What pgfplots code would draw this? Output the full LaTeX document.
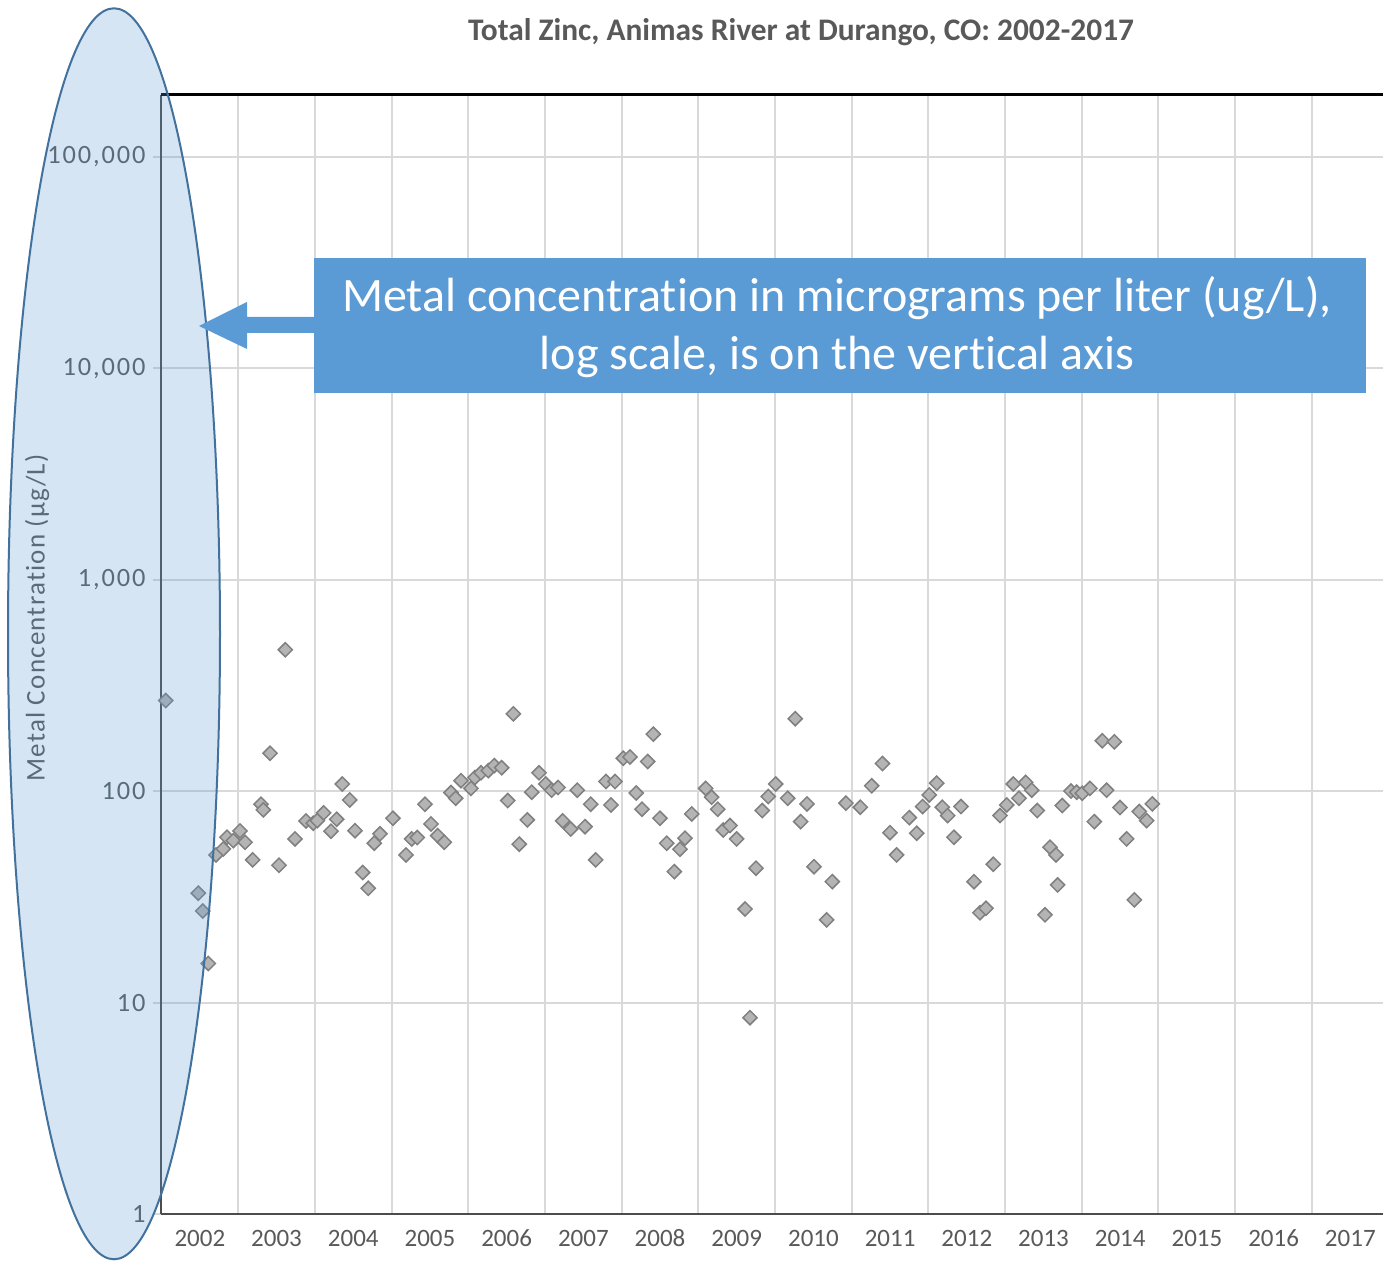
\documentclass[border=0pt]{standalone}
\usepackage{pgfplots}
\pgfplotsset{compat=1.18}
\usepackage{fontspec}
\setmainfont{Carlito}[Ligatures=NoCommon]
\definecolor{txtgray}{HTML}{595959}
\definecolor{gridgray}{HTML}{D9D9D9}
\definecolor{callout}{HTML}{5B9BD5}
\definecolor{ellborder}{HTML}{41719C}
\definecolor{mkfill}{HTML}{B4B4B4}
\definecolor{mkdraw}{HTML}{808080}

% total zinc, ug/L, sample date as decimal year
\pgfplotstableread{
x y
2002.055 268
2002.480 32.9
2002.537 27.1
2002.610 15.3
2002.711 49.9
2002.806 53.3
2002.854 60.5
2002.936 58.3
2003.023 64.8
2003.089 57.3
2003.189 47.3
2003.297 86.7
2003.327 81.5
2003.415 151
2003.532 44.6
2003.614 466
2003.741 59.4
2003.884 72.3
2003.979 70.5
2004.031 72.5
2004.115 78.9
2004.210 64.6
2004.284 73.6
2004.357 108
2004.454 90.8
2004.523 65.0
2004.623 41.2
2004.696 34.7
2004.774 56.7
2004.849 62.8
2005.018 74.4
2005.188 49.9
2005.262 59.4
2005.335 60.3
2005.435 86.7
2005.514 69.9
2005.601 61.6
2005.687 57.3
2005.774 98.4
2005.836 92.5
2005.905 112
2006.035 103
2006.087 116
2006.166 122
2006.261 125
2006.339 132
2006.435 129
2006.514 90.2
2006.587 232
2006.665 56.1
2006.769 73.1
2006.827 98.8
2006.922 122
2007.009 108
2007.087 101
2007.170 104
2007.231 72.3
2007.335 66.2
2007.421 101
2007.522 67.9
2007.596 86.7
2007.661 47.3
2007.795 111
2007.860 86.0
2007.913 111
2008.021 143
2008.108 145
2008.189 98.0
2008.265 82.1
2008.339 138
2008.412 186
2008.499 74.4
2008.587 56.7
2008.686 41.6
2008.760 53.1
2008.825 59.9
2008.913 78.0
2009.095 103
2009.173 93.6
2009.252 82.1
2009.325 65.5
2009.412 68.7
2009.499 59.4
2009.608 27.7
2009.673 8.48
2009.751 43.2
2009.833 80.9
2009.911 94.2
2010.008 108
2010.164 92.5
2010.263 220
2010.334 71.7
2010.416 87.0
2010.507 43.9
2010.673 24.6
2010.746 37.3
2010.924 87.7
2011.111 83.9
2011.259 106
2011.400 135
2011.498 63.6
2011.585 49.9
2011.750 74.9
2011.846 63.2
2011.924 84.5
2012.010 95.9
2012.107 109
2012.180 83.9
2012.250 76.6
2012.332 60.5
2012.424 84.5
2012.593 37.3
2012.671 26.6
2012.750 27.9
2012.845 45.1
2012.932 76.6
2013.020 86.0
2013.106 108
2013.180 92.5
2013.267 110
2013.346 101
2013.418 80.9
2013.519 26.0
2013.584 54.3
2013.662 49.9
2013.684 36.0
2013.744 85.4
2013.858 100
2013.932 98.8
2014.005 97.7
2014.105 103
2014.162 71.7
2014.266 173
2014.323 101
2014.423 171
2014.497 83.6
2014.584 59.4
2014.684 30.6
2014.748 80.0
2014.845 72.5
2014.918 87.0
}\zinc

\begin{document}
\begin{tikzpicture}
\useasboundingbox (0,0) rectangle (691.5pt,630.5pt);
\begin{axis}[
  at={(80.75pt,23.5pt)}, anchor=south west,
  scale only axis, width=610.75pt, height=559.5pt,
  xmin=2002, xmax=2017.926,
  ymode=log, ymin=1, ymax=196000,
  axis x line*=bottom, axis y line*=left,
  axis line style={draw=black!70, line width=1pt},
  xtick={2002.5,2003.5,...,2017.5},
  xticklabels={2002,2003,2004,2005,2006,2007,2008,2009,2010,2011,2012,2013,2014,2015,2016,2017},
  minor xtick={2003,2004,...,2017},
  xminorgrids, xmajorgrids=false,
  ytick={1,10,100,1000,10000,100000},
  yticklabels={1,10,100,{1,000},{10,000},{100,000}},
  ymajorgrids,
  grid style={gridgray, line width=1pt},
  minor grid style={gridgray, line width=1pt},
  tick align=outside, major tick length=4.5pt, minor tick length=0pt,
  xtick style={draw=none},
  ytick style={draw=gridgray, line width=1pt},
  tick label style={text=txtgray},
  xticklabel style={font=\fontsize{12.5}{14}\selectfont, text height=8.2pt, text depth=0pt},
  yticklabel style={font=\fontsize{13.2}{15}\selectfont\addfontfeature{LetterSpace=7}},
  /pgf/number format/assume math mode=true,
]
\addplot[only marks, mark=square*, mark size=2.5pt,
  mark options={rotate=45, fill=mkfill, draw=mkdraw, line width=0.75pt}]
  table[x=x, y=y] {\zinc};
\end{axis}
\draw[black, line width=1.5pt] (80.5pt,583pt) -- (691.5pt,583pt);
\node[font=\bfseries\fontsize{15.7}{18}\selectfont, text=txtgray] at (400.5pt,614.5pt)
  {Total Zinc, Animas River at Durango, CO: 2002-2017};
\node[rotate=90, font=\fontsize{13.5}{15}\selectfont\addfontfeature{LetterSpace=4.5}, text=txtgray]
  at (18.5pt,321.5pt) {Metal Concentration (µg/L)};
\draw[ellborder, line width=1pt, fill=callout, fill opacity=0.26]
  (57pt,313.6pt) ellipse [x radius=53pt, y radius=312.75pt];
\begin{scope}[x=0.5pt, y=-0.5pt, shift={(0,630.5pt)}]
  \fill[callout] (315,317) -- (247,317) -- (247,302) -- (199,326) -- (247,349)
    -- (247,333) -- (315,333) -- cycle;
  \fill[callout] (314,258) rectangle (1366,393);
  \node[text=white, font=\fontsize{24}{29}\selectfont, align=center] at (837,327)
    {Metal concentration in micrograms per liter (ug/L),\\ log scale, is on the vertical axis};
\end{scope}
\end{tikzpicture}
\end{document}
